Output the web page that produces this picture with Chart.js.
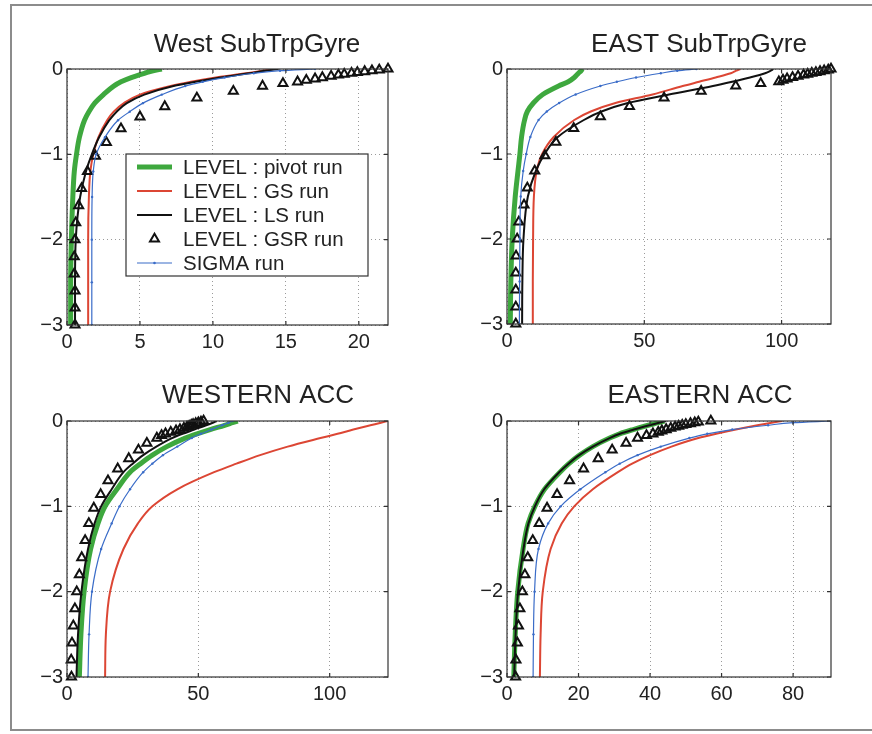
<!DOCTYPE html>
<html>
<head>
<meta charset="utf-8">
<script src="https://cdn.jsdelivr.net/npm/chart.js@4/dist/chart.umd.min.js"></script>
<style>
  body { margin: 0; background: #fff; }
  #page { position: relative; width: 872px; height: 734px; overflow: hidden; background: #fff; }
  #frame { position: absolute; left: 10px; top: 4px; width: 900px; height: 723px; border: 2px solid #8c8c8c; border-right: none; }
  .panel { position: absolute; width: 436px; height: 367px; }
</style>
</head>
<body>
<div id="page">
  <div id="frame"></div>
  <div class="panel" style="left:0;top:0"><canvas id="c0"></canvas></div>
  <div class="panel" style="left:436px;top:0"><canvas id="c1"></canvas></div>
  <div class="panel" style="left:0;top:367px"><canvas id="c2"></canvas></div>
  <div class="panel" style="left:436px;top:367px"><canvas id="c3"></canvas></div>
</div>
<script>
// depth levels (nondimensional) for the continuous curves
const depth = [0, -0.02, -0.05, -0.1, -0.15, -0.2, -0.3, -0.4, -0.5, -0.6, -0.8, -1.0, -1.2, -1.5, -2.0, -2.5, -3.0];
// model levels of the GSR run (triangles)
const gsrDepth = [0, -0.01, -0.02, -0.03, -0.04, -0.05, -0.06, -0.07, -0.085, -0.1, -0.115, -0.13, -0.15, -0.17, -0.2, -0.26,
  -0.34, -0.44, -0.56, -0.7, -0.86, -1.02, -1.2, -1.4, -1.6, -1.8, -2.0, -2.2, -2.4, -2.6, -2.8, -3.0];

const titles = ["West SubTrpGyre", "EAST SubTrpGyre", "WESTERN ACC", "EASTERN ACC"];
const seriesNames = ["LEVEL : pivot run", "LEVEL : GS run", "LEVEL : LS run", "LEVEL : GSR run", "SIGMA run"];
const yTicks = [0, -1, -2, -3];
const xMax = [22, 118, 122.2, 90.6];
const xStep = [5, 50, 50, 20];

// West SubTrpGyre
const wsgPivot = [6.5, 5.9, 5.3, 4.4, 3.7, 3.2, 2.5, 1.9, 1.5, 1.2, 0.85, 0.65, 0.5, 0.4, 0.3, 0.25, 0.25];
const wsgGS = [14.2, 13.4, 12.3, 10.2, 8.5, 7.1, 5.0, 3.9, 3.2, 2.75, 2.15, 1.8, 1.6, 1.5, 1.45, 1.45, 1.45];
const wsgLS = [14.5, 13.6, 12.5, 10.5, 8.8, 7.3, 5.3, 4.1, 3.4, 2.9, 2.2, 1.7, 1.3, 0.9, 0.6, 0.55, 0.55];
const wsgSigma = [17.0, 14.6, 12.8, 10.8, 9.3, 8.1, 6.5, 5.2, 4.3, 3.5, 2.6, 2.0, 1.8, 1.72, 1.7, 1.7, 1.7];
const wsgGSR = [22.0, 21.4, 20.9, 20.4, 19.9, 19.5, 19.0, 18.6, 18.1, 17.5, 17.0, 16.4, 15.8, 14.8, 13.4, 11.4,
  8.9, 6.7, 5.0, 3.7, 2.7, 1.95, 1.4, 1.0, 0.8, 0.6, 0.55, 0.5, 0.5, 0.55, 0.55, 0.55];

// EAST SubTrpGyre
const esgPivot = [27.5, 27.0, 26.0, 24.5, 22.3, 18.8, 13.0, 9.6, 7.4, 6.4, 5.3, 4.7, 4.0, 3.0, 1.9, 1.4, 1.2];
const esgGS = [85, 83.5, 81.5, 76, 70, 64, 53, 39.5, 30.5, 24.5, 17, 12.8, 10.8, 9.8, 9.5, 9.4, 9.4];
const esgLS = [97, 96, 94, 88.5, 82, 75, 59, 44, 34.4, 28, 18.5, 13.7, 10.5, 7.6, 6.0, 5.6, 5.5];
const esgSigma = [69, 62, 56, 47, 40, 34, 25, 19, 14.5, 11.5, 8.5, 7.0, 5.9, 5.0, 4.7, 4.6, 4.5];
const esgGSR = [118, 117, 115.5, 114, 112.5, 111, 109.5, 108, 106, 104, 102, 100.5, 99, 92.4, 83.3, 70.7,
  57.2, 44.6, 34.0, 24.3, 17.8, 13.8, 10.1, 7.4, 6.2, 4.3, 3.7, 3.3, 3.2, 3.2, 3.2, 3.2];

// WESTERN ACC
const waccPivot = [65, 63, 60, 54.5, 49.5, 45, 38, 32.5, 28, 24, 19, 14.5, 11.8, 9.0, 6.5, 5.3, 4.7];
const waccGS = [122, 119.5, 115.5, 109, 103, 96.5, 84, 73.5, 64.5, 56, 42, 32.5, 27, 21.5, 16.4, 14.8, 14.5];
const waccLS = [57, 55.5, 53, 48.5, 44, 40, 34, 29, 25, 21.5, 17, 13, 10.5, 8.0, 5.5, 4.2, 3.6];
const waccSigma = [63, 61.5, 59, 55, 51, 47.5, 42, 36.5, 32.5, 29, 24, 20, 17, 13, 9.5, 8.4, 8.0];
const waccGSR = [52, 51, 50, 49, 48, 47.3, 46.5, 45.7, 44.5, 43, 41.5, 39.5, 37.5, 36, 34.2, 30.4,
  27.2, 23.5, 19.3, 15.6, 12.8, 10.2, 8.3, 6.9, 5.6, 4.7, 3.7, 3.0, 2.4, 1.9, 1.6, 1.7];

// EASTERN ACC
const eaccPivot = [44, 42.3, 39.5, 35.3, 31.5, 28.7, 24, 20.3, 17.3, 14.8, 10.5, 7.8, 5.9, 4.5, 3.0, 2.3, 1.9];
const eaccGS = [77, 74, 70, 64, 58.5, 53.5, 46, 40, 35, 31, 24, 18.8, 15.3, 12.2, 10, 9.4, 9.2];
const eaccLS = [44.5, 42.5, 39.8, 35.5, 31.6, 28.7, 24, 20.2, 17.2, 14.6, 10.4, 7.8, 6.0, 4.6, 3.1, 2.4, 2.0];
const eaccSigma = [90.5, 80, 73, 63, 56, 51, 43, 36.5, 31.5, 27.5, 20.5, 15, 11.5, 8.8, 7.7, 7.4, 7.3];
const eaccGSR = [57, 53.5, 52.5, 51.3, 50, 49, 48, 47, 45.8, 44.5, 43.3, 42.3, 40.8, 39, 36.5, 33.3,
  29.4, 25.5, 21.4, 17.5, 14.0, 11.2, 9.0, 7.2, 5.8, 5.0, 4.3, 3.6, 3.2, 2.9, 2.5, 2.4];

const panelData = [
  [wsgPivot, wsgGS, wsgLS, wsgGSR, wsgSigma],
  [esgPivot, esgGS, esgLS, esgGSR, esgSigma],
  [waccPivot, waccGS, waccLS, waccGSR, waccSigma],
  [eaccPivot, eaccGS, eaccLS, eaccGSR, eaccSigma],
];

// placement of each panel inside its 436x367 canvas
const boxes = [
  { pad: { left: 17, top: 69, right: 48, bottom: 12 }, tx: 257, ty: 52, legend: true },
  { pad: { left: 21, top: 69, right: 41, bottom: 13 }, tx: 263, ty: 52 },
  { pad: { left: 17, top: 54, right: 48, bottom: 27 }, tx: 258, ty: 36 },
  { pad: { left: 21, top: 54, right: 41, bottom: 27 }, tx: 264, ty: 36 },
];

const FONT = "'Liberation Sans', Arial, Helvetica, sans-serif";
const GREEN = "#3ea83e", RED = "#dc4634", BLACK = "#111111", BLUE = "#3a6cc8";
const TRI_R = 5.2, TRI_W = 2;

const styles = [
  { borderColor: GREEN, borderWidth: 5, pointRadius: 0 },
  { borderColor: RED, borderWidth: 2, pointRadius: 0 },
  { borderColor: BLACK, borderWidth: 2, pointRadius: 0 },
  { showLine: false, pointStyle: "triangle", pointRadius: TRI_R, pointBorderWidth: TRI_W,
    pointBorderColor: BLACK, pointBackgroundColor: "rgba(0,0,0,0)", clip: false },
  { borderColor: BLUE, borderWidth: 1.2, pointRadius: 1.2, pointBorderWidth: 0, pointBackgroundColor: BLUE },
];

Chart.defaults.font.family = FONT;
Chart.defaults.color = "#222";

const decor = {
  id: "decor",
  afterDatasetsDraw(chart, args, opts) {
    const { ctx, chartArea: a, scales: { x, y } } = chart;
    ctx.save();
    ctx.strokeStyle = "#333";
    ctx.lineWidth = 1.2;
    ctx.strokeRect(a.left, a.top, a.right - a.left, a.bottom - a.top);
    ctx.beginPath();
    x.ticks.forEach((t) => {
      const px = x.getPixelForValue(t.value);
      ctx.moveTo(px, a.bottom); ctx.lineTo(px, a.bottom - 4);
      ctx.moveTo(px, a.top); ctx.lineTo(px, a.top + 4);
    });
    y.ticks.forEach((t) => {
      const py = y.getPixelForValue(t.value);
      ctx.moveTo(a.left, py); ctx.lineTo(a.left + 4, py);
      ctx.moveTo(a.right, py); ctx.lineTo(a.right - 4, py);
    });
    ctx.stroke();
    ctx.restore();
  },
  afterDraw(chart, args, opts) {
    const ctx = chart.ctx;
    ctx.save();
    ctx.fillStyle = "#222";
    ctx.font = "26px " + FONT;
    ctx.textAlign = "center";
    ctx.textBaseline = "alphabetic";
    ctx.fillText(opts.title, opts.tx, opts.ty);

    if (opts.legend) {
      const lx = 126, ly = 154, lw = 242, lh = 122;
      ctx.fillStyle = "#fff";
      ctx.fillRect(lx, ly, lw, lh);
      ctx.strokeStyle = "#333";
      ctx.lineWidth = 1.2;
      ctx.strokeRect(lx, ly, lw, lh);
      ctx.font = "20.5px " + FONT;
      ctx.textAlign = "left";
      ctx.textBaseline = "middle";
      seriesNames.forEach((name, i) => {
        const ry = 167 + i * 24;
        const s = styles[i];
        if (i === 3) {
          ctx.strokeStyle = BLACK;
          ctx.fillStyle = "rgba(0,0,0,0)";
          ctx.lineWidth = TRI_W;
          Chart.helpers.drawPoint(ctx, { pointStyle: "triangle", radius: TRI_R, borderWidth: TRI_W, rotation: 0 }, 154.5, ry);
        } else {
          ctx.strokeStyle = s.borderColor;
          ctx.lineWidth = s.borderWidth;
          ctx.beginPath();
          ctx.moveTo(137, ry); ctx.lineTo(172, ry);
          ctx.stroke();
          if (i === 4) {
            ctx.fillStyle = BLUE;
            ctx.beginPath(); ctx.arc(154.5, ry, 1.3, 0, Math.PI * 2); ctx.fill();
          }
        }
        ctx.fillStyle = "#222";
        ctx.fillText(name, 183, ry + 1);
      });
    }
    ctx.restore();
  },
};

panelData.forEach((series, p) => {
  const box = boxes[p];
  const datasets = series.map((vals, i) => {
    const ys = i === 3 ? gsrDepth : depth;
    return Object.assign({
      label: seriesNames[i],
      data: vals.map((v, k) => ({ x: v, y: ys[k] })),
      order: 5 - i,
      fill: false,
      cubicInterpolationMode: "monotone",
    }, styles[i]);
  });

  new Chart(document.getElementById("c" + p), {
    type: "line",
    data: { datasets },
    options: {
      indexAxis: "y",
      responsive: true,
      maintainAspectRatio: false,
      animation: false,
      events: [],
      layout: { padding: box.pad },
      scales: {
        x: {
          type: "linear",
          position: "bottom",
          min: 0,
          max: xMax[p],
          afterFit: (s) => { s.height = 30; },
          ticks: { stepSize: xStep[p], includeBounds: false, padding: 5, font: { size: 20 }, color: "#222", maxRotation: 0 },
          grid: { color: "#9a9a9a", lineWidth: 1, drawTicks: false },
          border: { display: false, dash: [1, 3] },
        },
        y: {
          type: "linear",
          position: "left",
          min: -3,
          max: 0,
          afterFit: (s) => { s.width = 50; },
          afterBuildTicks: (s) => { s.ticks = yTicks.map((v) => ({ value: v })); },
          ticks: {
            padding: 4, font: { size: 20 }, color: "#222",
            callback: (v) => (v === 0 ? "0" : "\u2212" + Math.abs(v)),
          },
          grid: { color: "#9a9a9a", lineWidth: 1, drawTicks: false },
          border: { display: false, dash: [1, 3] },
        },
      },
      plugins: {
        legend: { display: false },
        tooltip: { enabled: false },
        decor: { title: titles[p], tx: box.tx, ty: box.ty, legend: !!box.legend },
      },
    },
    plugins: [decor],
  });
});
</script>
</body>
</html>
